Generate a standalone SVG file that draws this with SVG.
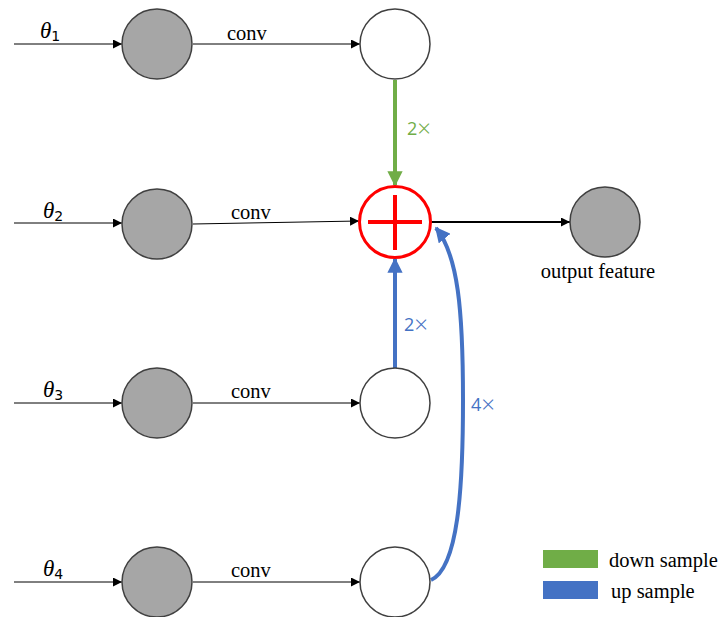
<svg xmlns="http://www.w3.org/2000/svg" width="723" height="617" viewBox="0 0 723 617">
<style>
.gray{fill:#A6A6A6;stroke:#404040;stroke-width:1.5}
.white{fill:#FFFFFF;stroke:#404040;stroke-width:1.5}
.thin{stroke:#000;stroke-width:1;fill:none}
.lbl{font-family:"Liberation Serif",serif;font-size:20.5px;fill:#000}
.th{font-family:"Liberation Serif",serif;font-size:23px;font-style:italic;fill:#000}
.sub{font-family:"DejaVu Sans",sans-serif;font-size:14px;font-style:normal}
.mult{font-family:"Open Sans","Liberation Sans",sans-serif;font-size:18px}
.x{font-family:"Open Sans",sans-serif;font-size:24px;font-weight:300}
</style>
<defs>
<marker id="ab" viewBox="0 0 10 10" refX="10" refY="5" markerWidth="9" markerHeight="9" markerUnits="userSpaceOnUse" orient="auto"><path d="M0,0L10,5L0,10z" fill="#000"/></marker>
<marker id="ag" viewBox="0 0 10 10" refX="9" refY="5" markerWidth="3.8" markerHeight="3.8" orient="auto"><path d="M0,0L10,5L0,10z" fill="#70AD47"/></marker>
<marker id="abl" viewBox="0 0 10 10" refX="9" refY="5" markerWidth="3.8" markerHeight="3.8" orient="auto"><path d="M0,0L10,5L0,10z" fill="#4472C4"/></marker>
</defs>
<g id="connectors">
<line class="thin" x1="14" y1="44" x2="122" y2="44" marker-end="url(#ab)"/>
<line class="thin" x1="14" y1="223" x2="122" y2="223" marker-end="url(#ab)"/>
<line class="thin" x1="14" y1="403" x2="122" y2="403" marker-end="url(#ab)"/>
<line class="thin" x1="14" y1="582" x2="122" y2="582" marker-end="url(#ab)"/>
<line class="thin" x1="193" y1="44" x2="360" y2="44" marker-end="url(#ab)"/>
<line class="thin" x1="193" y1="224" x2="359" y2="221" marker-end="url(#ab)"/>
<line class="thin" x1="193" y1="403" x2="360" y2="403" marker-end="url(#ab)"/>
<line class="thin" x1="193" y1="582" x2="360" y2="582" marker-end="url(#ab)"/>
<line x1="431" y1="222" x2="570" y2="222" stroke="#000" stroke-width="2" marker-end="url(#ab)"/>
<line x1="395" y1="80" x2="395" y2="185" stroke="#70AD47" stroke-width="4" marker-end="url(#ag)"/>
<line x1="395" y1="368" x2="395" y2="259" stroke="#4472C4" stroke-width="4" marker-end="url(#abl)"/>
<path d="M431,580 C458,568 463,490 463,400 C463,310 458,255 436,228" fill="none" stroke="#4472C4" stroke-width="4" marker-end="url(#abl)"/>
<text class="lbl" x="227" y="40">conv</text>
<text class="lbl" x="231" y="219">conv</text>
<text class="lbl" x="231" y="398">conv</text>
<text class="lbl" x="231" y="577">conv</text>
<text class="mult" x="407" y="135" fill="#70AD47">2<tspan class="x" dy="2">×</tspan></text>
<text class="mult" x="404" y="331" fill="#4472C4">2<tspan class="x" dy="2">×</tspan></text>
<text class="mult" x="471" y="411" fill="#4472C4">4<tspan class="x" dy="2">×</tspan></text>
</g>
<g id="theta1"><text class="th" x="40" y="38">θ<tspan class="sub" dy="3">1</tspan></text></g>
<g id="theta2"><text class="th" x="43" y="218">θ<tspan class="sub" dy="3">2</tspan></text></g>
<g id="theta3"><text class="th" x="43" y="397">θ<tspan class="sub" dy="3">3</tspan></text></g>
<g id="theta4"><text class="th" x="43" y="576">θ<tspan class="sub" dy="3">4</tspan></text></g>
<g id="in1"><circle class="gray" cx="157" cy="44" r="35"/></g>
<g id="in2"><circle class="gray" cx="157" cy="224" r="35"/></g>
<g id="in3"><circle class="gray" cx="157" cy="403" r="35"/></g>
<g id="in4"><circle class="gray" cx="157" cy="582" r="35"/></g>
<g id="c1"><circle class="white" cx="395" cy="44" r="35"/></g>
<g id="c3"><circle class="white" cx="395" cy="403" r="35"/></g>
<g id="c4"><circle class="white" cx="395" cy="582" r="35"/></g>
<g id="sum">
<circle cx="395" cy="222" r="35.5" fill="#fff" stroke="#FF0000" stroke-width="3"/>
<line x1="368" y1="222" x2="422" y2="222" stroke="#FF0000" stroke-width="4"/>
<line x1="395" y1="195" x2="395" y2="250" stroke="#FF0000" stroke-width="4"/>
</g>
<g id="out">
<circle class="gray" cx="605" cy="222" r="35"/>
<text class="lbl" x="598" y="278" text-anchor="middle">output feature</text>
</g>
<g id="legend">
<rect x="543" y="550" width="55" height="18" fill="#70AD47"/>
<rect x="543" y="581" width="55" height="18" fill="#4472C4"/>
<text class="lbl" x="609" y="567">down sample</text>
<text class="lbl" x="611" y="598">up sample</text>
</g>
</svg>
